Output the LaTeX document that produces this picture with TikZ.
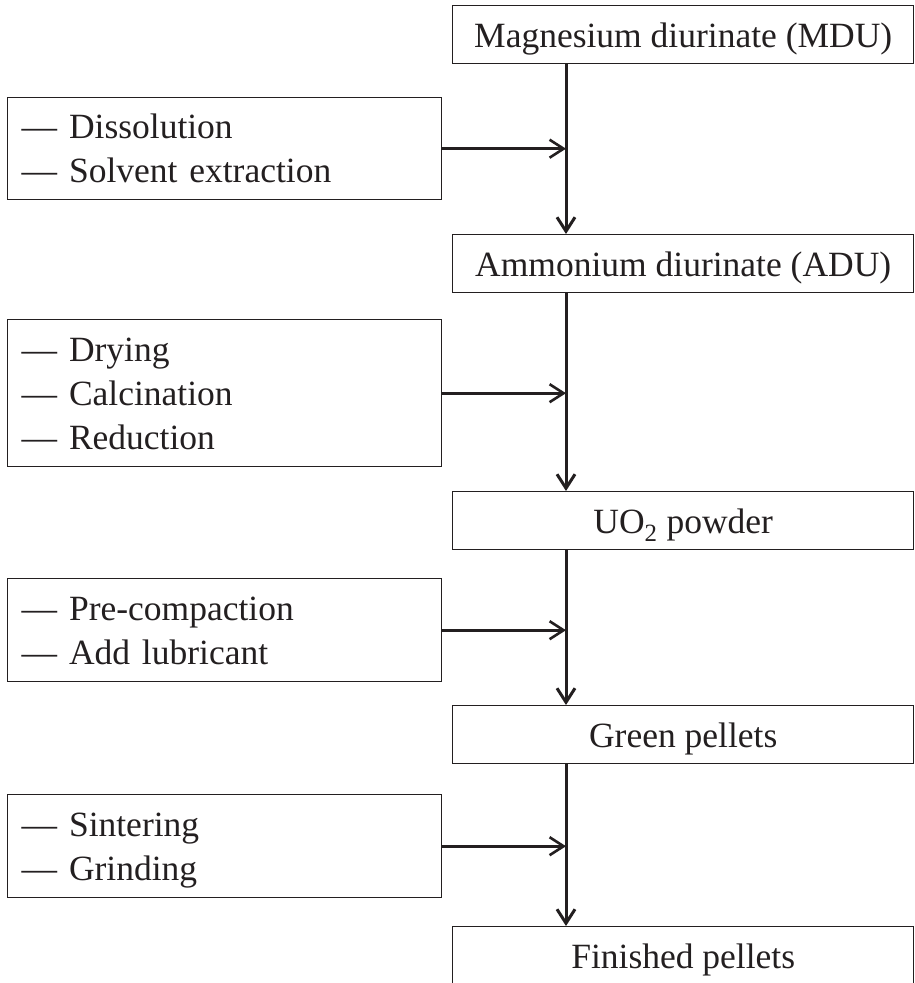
\documentclass[tikz,border=0pt]{standalone}
\usepackage{fontspec}
\setmainfont{Liberation Serif}
\usetikzlibrary{arrows.meta}
\definecolor{ink}{RGB}{35,31,32}
% uniform line box for the step lists
\newcommand\opstrut{\rule[-10pt]{0pt}{44pt}}
\begin{document}
\begin{tikzpicture}[x=1pt,y=-1pt,
  every node/.style={font=\fontsize{35.5}{44}\selectfont, text=ink},
  stage/.style={draw=ink, line width=1.4pt, minimum width=461pt,
    minimum height=58pt, inner sep=0pt, text height=34pt, text depth=8pt,
    anchor=north west},
  ops/.style={draw=ink, line width=1.4pt, inner xsep=14pt, inner ysep=0pt,
    text width=406pt, align=left, anchor=north west},
  flow/.style={draw=ink, line width=3pt,
    -{Straight Barb[length=14pt,width=18pt]}},
  feed/.style={draw=ink, line width=2.6pt,
    -{Straight Barb[length=14pt,width=18pt]}}]
\useasboundingbox (0,0) rectangle (914,983);
\clip (0,0) rectangle (914,983);

% main product chain
\node[stage] (mdu)  at (452,5)   {Magnesium diurinate (MDU)};
\node[stage] (adu)  at (452,234) {Ammonium diurinate (ADU)};
\node[stage] (uo2)  at (452,491) {UO\textsubscript{2} powder};
\node[stage] (green) at (452,705) {Green pellets};
\node[stage] (fin)  at (452,926) {Finished pellets};

% process steps
\node[ops, minimum height=102pt] (s1) at (7,97)
  {\opstrut--- Dissolution\\\opstrut--- Solvent extraction};
\node[ops, minimum height=147pt] (s2) at (7,319)
  {\opstrut--- Drying\\\opstrut--- Calcination\\\opstrut--- Reduction};
\node[ops, minimum height=103pt] (s3) at (7,578)
  {\opstrut--- Pre-compaction\\\opstrut--- Add lubricant};
\node[ops, minimum height=103pt] (s4) at (7,794)
  {\opstrut--- Sintering\\\opstrut--- Grinding};

% vertical flow line
\coordinate (spine) at (566,0);
\draw[flow] (mdu.south -| spine) -- (adu.north -| spine);
\draw[flow] (adu.south -| spine) -- (uo2.north -| spine);
\draw[flow] (uo2.south -| spine) -- (green.north -| spine);
\draw[flow] (green.south -| spine) -- (fin.north -| spine);

% step inputs
\draw[feed] (s1.east) -- (s1.east -| spine);
\draw[feed] (s2.east) -- (s2.east -| spine);
\draw[feed] (s3.east) -- (s3.east -| spine);
\draw[feed] (s4.east) -- (s4.east -| spine);
\end{tikzpicture}
\end{document}
